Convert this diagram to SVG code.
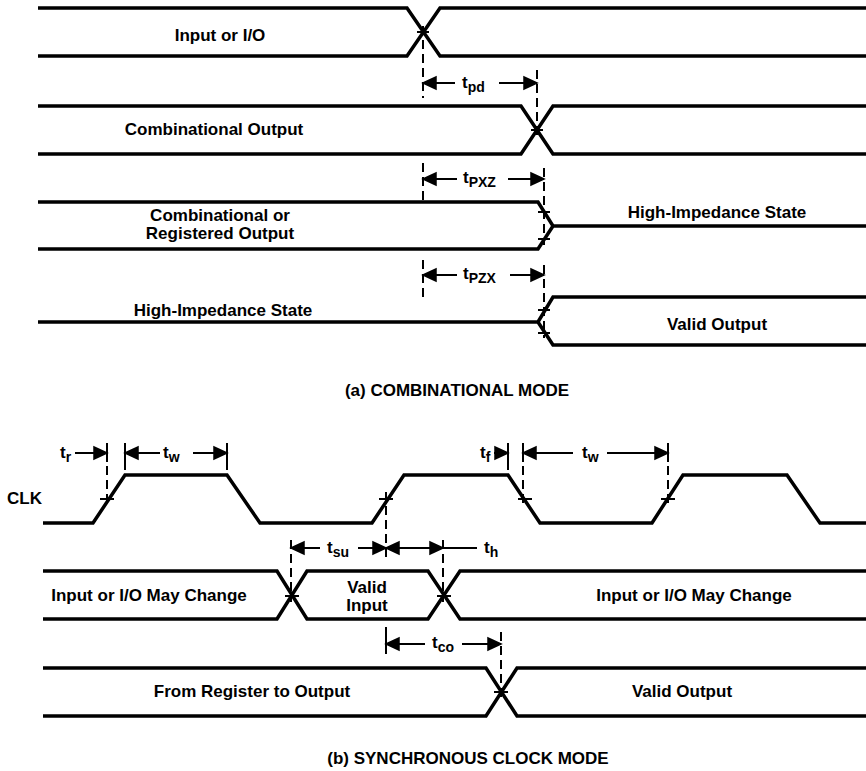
<svg xmlns="http://www.w3.org/2000/svg" width="866" height="771" viewBox="0 0 866 771">
<style>
.w{fill:none;stroke:#000;stroke-width:3.5;stroke-linejoin:miter}
.d{fill:none;stroke:#000;stroke-width:2}
.ds{fill:none;stroke:#000;stroke-width:2;stroke-dasharray:9,5}
.h{fill:#000;stroke:#000;stroke-width:1.5;stroke-linejoin:miter}
.t{font-family:"Liberation Sans",Arial,Helvetica,sans-serif;font-weight:bold;font-size:17px;fill:#000}
.s{font-size:14px}
.m{text-anchor:middle}
</style>
<rect width="866" height="771" fill="#fff"/>

<g id="input-io">
<path class="w" d="M38,8 H407 L440,56 H866 M38,56 H407 L440,8 H866"/>
<path class="d" d="M417,32 H429"/>
<text class="t m" x="220" y="41">Input or I/O</text>
</g>

<g id="comb-output">
<path class="w" d="M38,106 H521 L553,154 H866 M38,154 H521 L553,106 H866"/>
<path class="d" d="M531,130 H543"/>
<text class="t m" x="214" y="135">Combinational Output</text>
</g>

<g id="comb-reg-output">
<path class="w" d="M38,202 H538 L553,226 H866 M38,249 H538 L553,226"/>
<path class="d" d="M538,212 H550 M538,239 H550"/>
<text class="t m" x="220" y="221">Combinational or</text>
<text class="t m" x="220" y="239">Registered Output</text>
<text class="t m" x="717" y="218">High-Impedance State</text>
</g>

<g id="hiz-valid">
<path class="w" d="M38,322 H538 L553,297 H866 M538,322 L553,345 H866"/>
<path class="d" d="M538,310 H550 M538,333 H550"/>
<text class="t m" x="223" y="316">High-Impedance State</text>
<text class="t m" x="717" y="330">Valid Output</text>
</g>

<g id="caption-a">
<text class="t m" x="457" y="396">(a) COMBINATIONAL MODE</text>
</g>

<g id="clk">
<path class="w" d="M43,523 H93 L125,475 H227 L260,523 H372 L404,475 H508 L540,523 H652 L683,475 H787 L820,523 H866"/>
<path class="d" d="M100,499 H114 M379,499 H393 M518,499 H532 M661,499 H675"/>
<text class="t" x="7" y="504">CLK</text>
</g>

<g id="sync-input">
<path class="w" d="M43,571 H277 L307,619 H428 L460,571 H866 M43,619 H277 L307,571 H428 L460,619 H866"/>
<path class="d" d="M285,596 H299 M437,596 H451"/>
<text class="t m" x="149" y="601">Input or I/O May Change</text>
<text class="t m" x="367" y="593">Valid</text>
<text class="t m" x="367" y="611">Input</text>
<text class="t m" x="694" y="601">Input or I/O May Change</text>
</g>

<g id="reg-output">
<path class="w" d="M43,668 H486 L517,716 H866 M43,716 H486 L517,668 H866"/>
<path class="d" d="M494,692 H508"/>
<text class="t m" x="252" y="697">From Register to Output</text>
<text class="t m" x="682" y="697">Valid Output</text>
</g>

<g id="caption-b">
<text class="t m" x="468" y="764">(b) SYNCHRONOUS CLOCK MODE</text>
</g>

<g id="connectors">
<!-- tpd -->
<path class="ds" d="M423,26 V98"/>
<path class="ds" d="M537,70 V136"/>
<path class="d" d="M455,83 H434 M499,83 H526"/>
<path class="h" d="M423,83 l13,-6 v12 z M537,83 l-13,-6 v12 z"/>
<text class="t" x="462" y="88">t<tspan class="s" dy="4">pd</tspan></text>
<!-- tPXZ -->
<path class="ds" d="M423,163 V200"/>
<path class="ds" d="M544,168 V245"/>
<path class="d" d="M457,179 H434 M508,179 H533"/>
<path class="h" d="M423,179 l13,-6 v12 z M544,179 l-13,-6 v12 z"/>
<text class="t" x="463" y="183">t<tspan class="s" dy="4">PXZ</tspan></text>
<!-- tPZX -->
<path class="ds" d="M423,260 V300"/>
<path class="ds" d="M544,265 V338"/>
<path class="d" d="M457,275 H434 M510,275 H533"/>
<path class="h" d="M423,275 l13,-6 v12 z M544,275 l-13,-6 v12 z"/>
<text class="t" x="463" y="279">t<tspan class="s" dy="4">PZX</tspan></text>
<!-- tr -->
<path class="d" d="M107,443 V462"/>
<path class="ds" d="M107,466 V506"/>
<path class="d" d="M75,453 H96"/>
<path class="h" d="M107,453 l-13,-6 v12 z"/>
<text class="t" x="60" y="458">t<tspan class="s" dy="4">r</tspan></text>
<!-- tw -->
<path class="d" d="M125,443 V470 M227,443 V470"/>
<path class="d" d="M160,453 H136 M193,453 H216"/>
<path class="h" d="M125,453 l13,-6 v12 z M227,453 l-13,-6 v12 z"/>
<text class="t" x="163" y="458">t<tspan class="s" dy="4">w</tspan></text>
<!-- tf -->
<path class="d" d="M508,443 V470"/>
<path class="d" d="M494,453 H497"/>
<path class="h" d="M508,453 l-13,-6 v12 z"/>
<text class="t" x="480" y="458">t<tspan class="s" dy="4">f</tspan></text>
<!-- tw2 -->
<path class="d" d="M523,443 V462"/>
<path class="ds" d="M523,466 V506"/>
<path class="d" d="M668,443 V462"/>
<path class="ds" d="M668,466 V506"/>
<path class="d" d="M573,453 H534 M607,453 H657"/>
<path class="h" d="M523,453 l13,-6 v12 z M668,453 l-13,-6 v12 z"/>
<text class="t" x="582" y="458">t<tspan class="s" dy="4">w</tspan></text>
<!-- tsu / th -->
<path class="ds" d="M386,492 V562"/>
<path class="ds" d="M291,540 V602"/>
<path class="ds" d="M443,540 V602"/>
<path class="d" d="M320,548 H302 M358,548 H375"/>
<path class="h" d="M291,548 l13,-6 v12 z M386,548 l-13,-6 v12 z"/>
<text class="t" x="327" y="553">t<tspan class="s" dy="4">su</tspan></text>
<path class="d" d="M397,548 H477"/>
<path class="h" d="M386,548 l13,-6 v12 z M443,548 l-13,-6 v12 z"/>
<text class="t" x="484" y="553">t<tspan class="s" dy="4">h</tspan></text>
<!-- tco -->
<path class="d" d="M386,627 V654"/>
<path class="ds" d="M501,632 V698"/>
<path class="d" d="M425,644 H397 M462,644 H490"/>
<path class="h" d="M386,644 l13,-6 v12 z M501,644 l-13,-6 v12 z"/>
<text class="t" x="432" y="648">t<tspan class="s" dy="4">co</tspan></text>
</g>
</svg>
